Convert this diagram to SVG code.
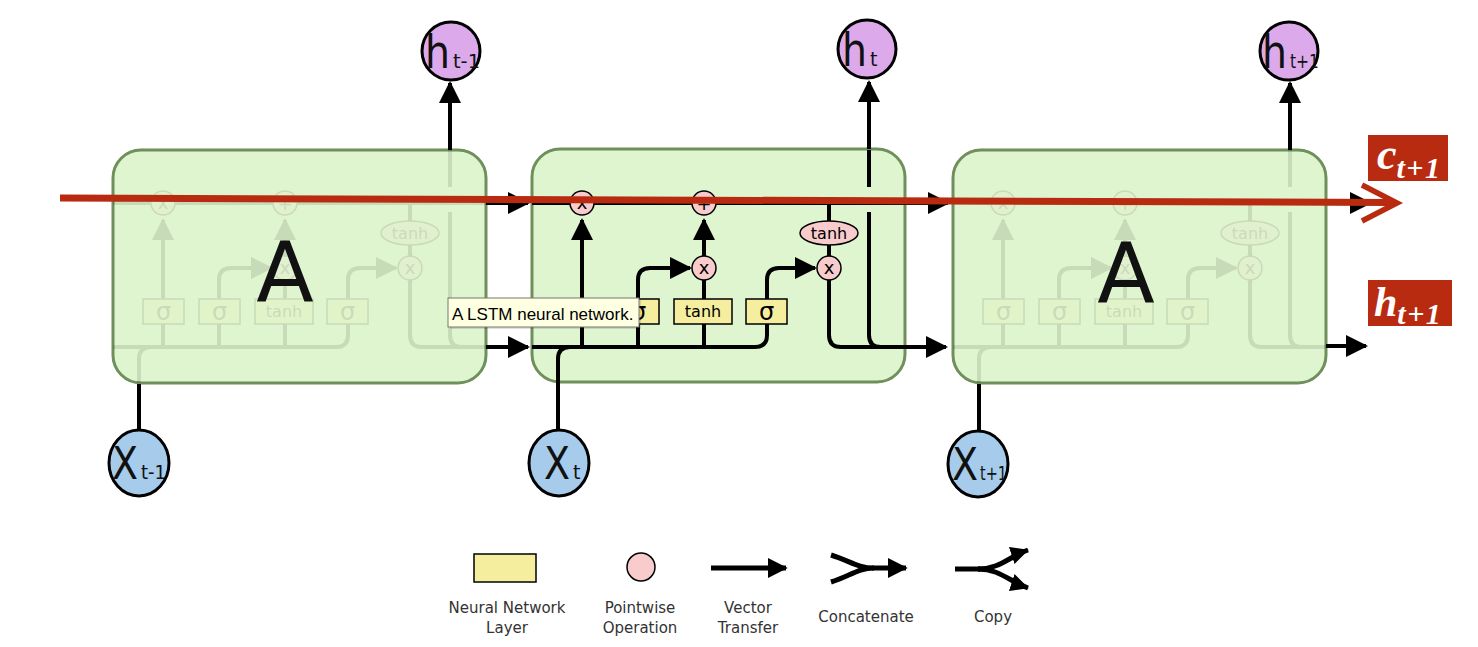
<svg xmlns="http://www.w3.org/2000/svg" xmlns:xlink="http://www.w3.org/1999/xlink" width="1478" height="647" viewBox="0 0 1478 647">
<defs>
<style>
.cell{fill:#dff5cf;stroke:#6f8f5b;stroke-width:3}
.k{fill:none;stroke:#000;stroke-width:4}
.lg{fill:none;stroke:#000;stroke-width:5}
.box{fill:#f4ee9e;stroke:#000;stroke-width:1.5}
.pw{fill:#f8cccc;stroke:#000;stroke-width:1.5}
.op{font-family:"DejaVu Sans",sans-serif;font-size:16px;text-anchor:middle;fill:#000}
.ox{font-family:"DejaVu Sans",sans-serif;font-size:18px;text-anchor:middle;fill:#000}
.sig{font-family:"DejaVu Sans",sans-serif;font-size:24px;text-anchor:middle;fill:#000}
.big{font-family:"DejaVu Sans",sans-serif;fill:#111}
.hnode{fill:#dcaaea;stroke:#000;stroke-width:3}
.xnode{fill:#a6cbeb;stroke:#000;stroke-width:3}
.leg{font-family:"DejaVu Sans",sans-serif;font-size:15px;fill:#333;text-anchor:middle}
.red{fill:#b92b10}
.rl{font-family:"Liberation Serif",serif;font-weight:bold;font-style:italic;fill:#fff}
</style>
<marker id="ah" viewBox="0 0 22 22" refX="20" refY="11" markerWidth="22" markerHeight="22" markerUnits="userSpaceOnUse" orient="auto"><path d="M0,0 L22,11 L0,22 z" fill="#000"/></marker>
<marker id="ahl" viewBox="0 0 22 22" refX="20" refY="11" markerWidth="20" markerHeight="20" markerUnits="userSpaceOnUse" orient="auto"><path d="M0,0 L22,11 L0,22 z" fill="#000"/></marker>
<marker id="ahc" viewBox="0 0 22 22" refX="21" refY="11" markerWidth="18" markerHeight="18" markerUnits="userSpaceOnUse" orient="auto"><path d="M0,0 L22,11 L0,22 z" fill="#000"/></marker>
<g id="internals">
<line class="k" x1="532" y1="203" x2="905" y2="203"/>
<path class="k" d="M532,347 H755 Q767,347 767,335 V324"/>
<path class="k" d="M558,383 V359 Q558,347 570,347"/>
<path class="k" d="M582,347 V220" marker-end="url(#ah)"/>
<path class="k" d="M638,347 V280 Q638,268 650,268 H690" marker-end="url(#ah)"/>
<path class="k" d="M704,347 V280"/>
<path class="k" d="M704,256 V220" marker-end="url(#ah)"/>
<path class="k" d="M767,299 V280 Q767,268 779,268 H815" marker-end="url(#ah)"/>
<path class="k" d="M829,203 V335 Q829,347 841,347 H905"/>
<path class="k" d="M869,212 V335 Q869,347 881,347"/>
<path class="k" d="M869,187 V150"/>
<rect class="box" x="562" y="299" width="41" height="25"/>
<rect class="box" x="618" y="299" width="41" height="25"/>
<rect class="box" x="674" y="299" width="58" height="25"/>
<rect class="box" x="746" y="299" width="41" height="25"/>
<text class="sig" x="582.5" y="320">σ</text>
<text class="sig" x="638.5" y="320">σ</text>
<text class="op" x="703" y="317">tanh</text>
<text class="sig" x="766.5" y="320">σ</text>
<circle class="pw" cx="582" cy="203" r="12"/>
<circle class="pw" cx="704" cy="203" r="12"/>
<circle class="pw" cx="704" cy="268" r="12"/>
<circle class="pw" cx="829" cy="268" r="12"/>
<ellipse class="pw" cx="829" cy="233" rx="29" ry="12"/>
<text class="ox" x="582" y="209">x</text>
<text class="ox" x="704" y="210">+</text>
<text class="ox" x="704" y="274">x</text>
<text class="ox" x="829" y="274">x</text>
<text class="op" x="829" y="239">tanh</text>
</g>
</defs>

<g id="cell-left">
<rect class="cell" x="113" y="150" width="373" height="233" rx="28"/>
<use xlink:href="#internals" href="#internals" transform="translate(-419,0)" opacity="0.1"/>
<text class="big" x="285" y="302" font-size="84" text-anchor="middle">A</text>
</g>
<g id="cell-mid">
<rect class="cell" x="532" y="149" width="373" height="233" rx="28"/>
<use xlink:href="#internals" href="#internals"/>
</g>
<g id="cell-right">
<rect class="cell" x="953" y="150" width="373" height="233" rx="28"/>
<use xlink:href="#internals" href="#internals" transform="translate(421,0)" opacity="0.1"/>
<text class="big" x="1126" y="303" font-size="84" text-anchor="middle">A</text>
</g>

<g id="connectors">
<path class="k" d="M139,431 V384"/>
<path class="k" d="M558,431 V383"/>
<path class="k" d="M979,431 V384"/>
<path class="k" d="M450,150 V83" marker-end="url(#ah)"/>
<path class="k" d="M869,149 V82" marker-end="url(#ah)"/>
<path class="k" d="M1290,150 V83" marker-end="url(#ah)"/>
<path class="k" d="M486,203 H528" marker-end="url(#ah)"/>
<path class="k" d="M905,203 H948" marker-end="url(#ah)"/>
<path class="k" d="M1326,203 H1370" marker-end="url(#ah)"/>
<path class="k" d="M486,347 H528" marker-end="url(#ah)"/>
<path class="k" d="M905,347 H946" marker-end="url(#ah)"/>
<path class="k" d="M1326,346 H1366" marker-end="url(#ah)"/>
</g>

<g id="h-prev">
<circle class="hnode" cx="451" cy="51" r="29"/>
<text class="big" x="425" y="68" font-size="46" textLength="25" lengthAdjust="spacingAndGlyphs">h</text>
<text class="big" x="453" y="68" font-size="19" textLength="27" lengthAdjust="spacingAndGlyphs">t-1</text>
</g>
<g id="h-cur">
<circle class="hnode" cx="867" cy="49" r="29"/>
<text class="big" x="842" y="66" font-size="46" textLength="25" lengthAdjust="spacingAndGlyphs">h</text>
<text class="big" x="870" y="66" font-size="19">t</text>
</g>
<g id="h-next">
<circle class="hnode" cx="1289" cy="51" r="29"/>
<text class="big" x="1262" y="68" font-size="46" textLength="25" lengthAdjust="spacingAndGlyphs">h</text>
<text class="big" x="1290" y="68" font-size="19" textLength="29" lengthAdjust="spacingAndGlyphs">t+1</text>
</g>

<g id="x-prev">
<ellipse class="xnode" cx="139" cy="463" rx="30" ry="33"/>
<text class="big" x="112" y="479" font-size="44" textLength="26" lengthAdjust="spacingAndGlyphs">X</text>
<text class="big" x="141" y="479" font-size="19" textLength="25" lengthAdjust="spacingAndGlyphs">t-1</text>
</g>
<g id="x-cur">
<ellipse class="xnode" cx="559" cy="463" rx="30" ry="33"/>
<text class="big" x="544" y="479" font-size="44" textLength="26" lengthAdjust="spacingAndGlyphs">X</text>
<text class="big" x="573" y="479" font-size="19">t</text>
</g>
<g id="x-next">
<ellipse class="xnode" cx="978" cy="464" rx="30" ry="33"/>
<text class="big" x="952" y="480" font-size="44" textLength="26" lengthAdjust="spacingAndGlyphs">X</text>
<text class="big" x="980" y="480" font-size="19" textLength="27" lengthAdjust="spacingAndGlyphs">t+1</text>
</g>

<g id="cell-state-highlight">
<line x1="60" y1="198" x2="1392" y2="202.5" stroke="#b92b10" stroke-width="7"/>
<polyline points="1362,185 1397,203 1362,221" fill="none" stroke="#b92b10" stroke-width="5.5"/>
</g>

<g id="label-c">
<rect class="red" x="1368" y="135" width="80" height="46"/>
<text class="rl" x="1377" y="169" font-size="44">c<tspan font-size="30" dy="9" letter-spacing="1.5">t+1</tspan></text>
</g>
<g id="label-h">
<rect class="red" x="1368" y="280" width="84" height="46"/>
<text class="rl" x="1374" y="316" font-size="42">h<tspan font-size="30" dy="8" letter-spacing="1.5">t+1</tspan></text>
</g>

<g id="legend">
<g id="legend-layer">
<rect class="box" x="474" y="554" width="62" height="28"/>
<text class="leg" x="507" y="613">Neural Network</text>
<text class="leg" x="507" y="633">Layer</text>
</g>
<g id="legend-pointwise">
<circle class="pw" cx="641" cy="567" r="14"/>
<text class="leg" x="640" y="613">Pointwise</text>
<text class="leg" x="640" y="633">Operation</text>
</g>
<g id="legend-vector">
<path class="lg" d="M711,568 H786" marker-end="url(#ahl)"/>
<text class="leg" x="748" y="613">Vector</text>
<text class="leg" x="748" y="633">Transfer</text>
</g>
<g id="legend-concat">
<path class="lg" d="M831,555 C850,561 858,568 874,568 M831,582 C850,576 858,568 874,568"/>
<path class="lg" d="M872,568 H906" marker-end="url(#ahl)"/>
<text class="leg" x="866" y="622">Concatenate</text>
</g>
<g id="legend-copy">
<path class="lg" d="M955,569 H980"/>
<path class="lg" d="M978,569 C1000,569 1010,556 1028,550" marker-end="url(#ahc)"/>
<path class="lg" d="M978,569 C1000,569 1010,582 1028,588" marker-end="url(#ahc)"/>
<text class="leg" x="993" y="622">Copy</text>
</g>
</g>

<g id="tooltip">
<rect x="450" y="300" width="191" height="29" fill="#000" opacity="0.12"/>
<rect x="448" y="298" width="191" height="29" fill="#ffffe1" stroke="#767676" stroke-width="1"/>
<text x="452" y="320" font-family="Liberation Sans, Arial, sans-serif" font-size="17" fill="#000">A LSTM neural network.</text>
</g>
</svg>
